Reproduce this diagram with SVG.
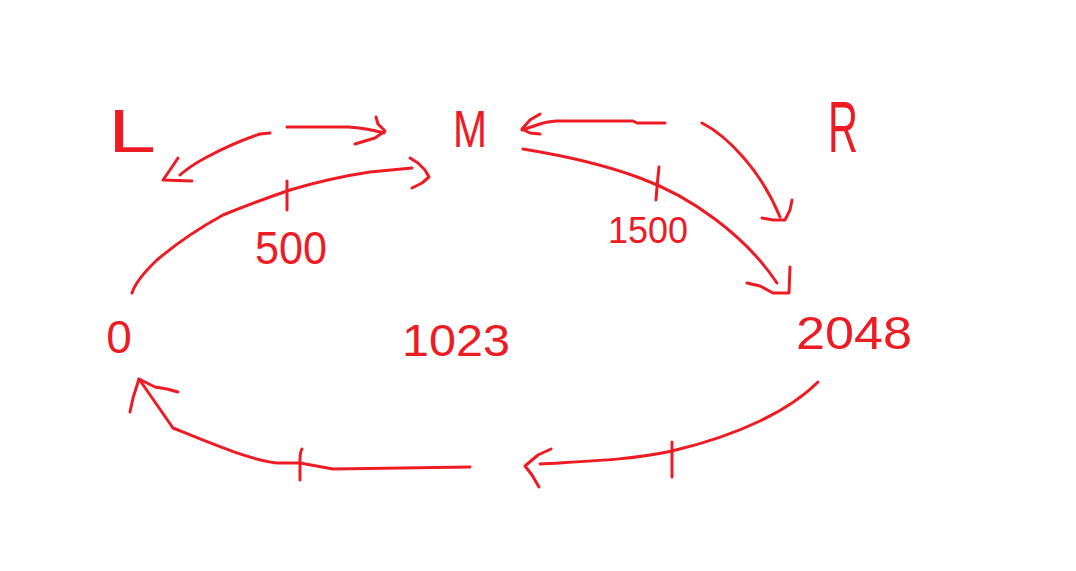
<svg xmlns="http://www.w3.org/2000/svg" width="1076" height="571" viewBox="0 0 1076 571">
<style>
.s{fill:none;stroke:#ED1C24;stroke-width:3;stroke-linecap:round;stroke-linejoin:round}
.t{fill:#ED1C24;font-family:"Liberation Sans",Arial,sans-serif;text-anchor:middle}
</style>
<rect width="1076" height="571" fill="#ffffff"/>
<g id="connectors">
  <!-- L -> M -->
  <path class="s" d="M287,127 L348,127 Q366,128 384,133"/>
  <polyline class="s" points="376,117 378,124 385,131 375,138 355,144"/>
  <!-- M -> L -->
  <path class="s" d="M270,133 L260,134 Q235,142 207,157 Q190,166 180,175"/>
  <polyline class="s" points="178,158 172,167 163,180 192,181"/>
  <!-- 0 -> M -->
  <path class="s" d="M132,293 Q136,280 157,260 Q185,236 223,215 Q255,202 290,190 Q330,178 370,172 L412,168"/>
  <polyline class="s" points="410,158 418,163 425,170 429,177 422,183 412,188"/>
  <line class="s" x1="287" y1="181" x2="287" y2="210"/>
  <text class="t" x="291" y="264" font-size="46" textLength="72" lengthAdjust="spacingAndGlyphs">500</text>
  <!-- R -> M -->
  <path class="s" d="M665,123 L637,123 L633,121 L557,121 Q545,122 540,124 L522,130"/>
  <polyline class="s" points="540,114 530,120 522,129 530,133 540,134"/>
  <!-- R side downward -->
  <path class="s" d="M702,123 Q722,133 743,157 Q766,183 780,217"/>
  <polyline class="s" points="792,200 790,210 785,220 773,220 762,218"/>
  <!-- M -> 2048 -->
  <path class="s" d="M523,149 C560,155 600,163 640,178 C690,196 745,235 777,283"/>
  <polyline class="s" points="790,267 789,293 773,293 760,286 747,283"/>
  <path class="s" d="M659,167 Q657,185 656,200"/>
  <text class="t" x="648" y="243" font-size="36" textLength="80" lengthAdjust="spacingAndGlyphs">1500</text>
  <!-- 2048 -> bottom -->
  <path class="s" d="M818,382 C790,410 740,435 672,451 C630,460 590,461 540,464"/>
  <polyline class="s" points="551,449 538,455 525,466 532,475 539,487"/>
  <line class="s" x1="672" y1="442" x2="672" y2="477"/>
  <!-- bottom -> 0 -->
  <path class="s" d="M470,467 L333,469 L300,463 L277,463 C250,460 210,443 173,428 L139,379"/>
  <polyline class="s" points="178,392 167,389 155,387 139,379 133,398 130,412"/>
  <path class="s" d="M302,449 Q300,452 300,460 L300,480"/>
</g>
<g id="node-L"><text class="t" x="132" y="152" font-size="62" textLength="48" lengthAdjust="spacingAndGlyphs">L</text></g>
<g id="node-M"><text class="t" x="470" y="147" font-size="52" textLength="34" lengthAdjust="spacingAndGlyphs">M</text></g>
<g id="node-R"><text class="t" x="843" y="152" font-size="72" textLength="30" lengthAdjust="spacingAndGlyphs">R</text></g>
<g id="node-0"><text class="t" x="119" y="353" font-size="46">0</text></g>
<g id="node-1023"><text class="t" x="456" y="356" font-size="44" textLength="108" lengthAdjust="spacingAndGlyphs">1023</text></g>
<g id="node-2048"><text class="t" x="854" y="349" font-size="47" textLength="116" lengthAdjust="spacingAndGlyphs">2048</text></g>
</svg>
